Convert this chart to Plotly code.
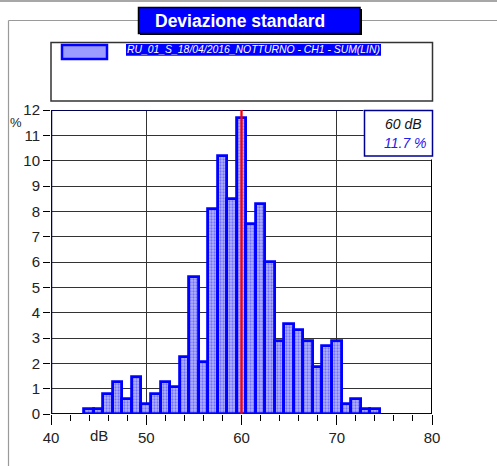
import plotly.graph_objects as go

# ---- data ----
db_levels = [44, 45, 46, 47, 48, 49, 50, 51, 52, 53, 54, 55, 56, 57, 58, 59,
             60, 61, 62, 63, 64, 65, 66, 67, 68, 69, 70, 71, 72, 73, 74]
percent = [0.2, 0.2, 0.8, 1.25, 0.6, 1.45, 0.4, 0.8, 1.25, 1.05, 2.25, 5.4, 2.05, 8.1, 10.2, 8.5,
           11.7, 7.5, 8.3, 6.0, 2.9, 3.55, 3.3, 2.9, 1.85, 2.7, 2.9, 0.4, 0.6, 0.2, 0.2]
x_ticks = [40, 50, 60, 70, 80]
y_ticks = list(range(0, 13))
series_name = "RU_01_S_18/04/2016_NOTTURNO - CH1 - SUM(LIN)"
title_text = "Deviazione standard"
cursor_db = 60
cursor_pct = 11.7

W, H = 497, 466
ML, MR, MT, MB = 51, 65, 110, 52
PW = W - ML - MR
PH = H - MT - MB


def px(p):
    return (p - ML) / PW


def py(p):
    return (H - MB - p) / PH


FONT = "Liberation Sans, Arial, sans-serif"

fig = go.Figure()
fig.add_trace(go.Bar(
    x=db_levels, y=percent, width=1,
    marker=dict(color="#9090ff",
                line=dict(color="#0000ff", width=2.8),
                pattern=dict(shape=".", fgcolor="#3030ff", bgcolor="#b4b4ff", size=3, solidity=0.45)),
    showlegend=False,
))

shapes = []
# outer decorations (gray frame)
shapes.append(dict(type="line", xref="paper", yref="paper", x0=px(0), x1=px(W), y0=py(1), y1=py(1),
                   line=dict(color="#8a8a8a", width=1.5), layer="above"))
shapes.append(dict(type="line", xref="paper", yref="paper", x0=px(8.5), x1=px(8.5), y0=py(20.5), y1=py(H),
                   line=dict(color="#9a9a9a", width=1.2), layer="above"))
shapes.append(dict(type="line", xref="paper", yref="paper", x0=px(8.5), x1=px(W), y0=py(20.5), y1=py(20.5),
                   line=dict(color="#9a9a9a", width=1.2), layer="above"))
# title box (shadow + box)
shapes.append(dict(type="rect", xref="paper", yref="paper", x0=px(140), x1=px(362), y0=py(9), y1=py(35),
                   fillcolor="black", line=dict(width=0), layer="above"))
shapes.append(dict(type="rect", xref="paper", yref="paper", x0=px(138.5), x1=px(360), y0=py(7.5), y1=py(33.5),
                   fillcolor="#0000ff", line=dict(color="black", width=1.5), layer="above"))
# legend box
shapes.append(dict(type="rect", xref="paper", yref="paper", x0=px(51), x1=px(432.5), y0=py(42.5), y1=py(101),
                   fillcolor="white", line=dict(color="#333333", width=1.5), layer="above"))
shapes.append(dict(type="rect", xref="paper", yref="paper", x0=px(62), x1=px(107), y0=py(45), y1=py(59),
                   fillcolor="#9a9aff", line=dict(color="#0000ff", width=2.5), layer="above"))
shapes.append(dict(type="rect", xref="paper", yref="paper", x0=px(126), x1=px(381), y0=py(44), y1=py(55.7),
                   fillcolor="#0000ff", line=dict(width=0), layer="above"))
# axis frame lines
shapes.append(dict(type="line", xref="x", yref="y", x0=40, x1=80, y0=0, y1=0,
                   line=dict(color="#000050", width=2), layer="between"))
shapes.append(dict(type="line", xref="x", yref="y", x0=40, x1=40, y0=0, y1=12,
                   line=dict(color="#000050", width=2.5), layer="above"))
shapes.append(dict(type="line", xref="x", yref="y", x0=40, x1=72.8, y0=12, y1=12,
                   line=dict(color="#000050", width=2), layer="above"))
shapes.append(dict(type="line", xref="x", yref="y", x0=80, x1=80, y0=0, y1=10.05,
                   line=dict(color="black", width=2), layer="above"))
# cursor line
shapes.append(dict(type="line", xref="x", yref="y", x0=cursor_db, x1=cursor_db, y0=0, y1=12,
                   line=dict(color="#ff0000", width=2.3), layer="above"))
# cursor value box
shapes.append(dict(type="rect", xref="paper", yref="paper", x0=px(364.5), x1=px(432.5), y0=py(110.5), y1=py(156),
                   fillcolor="white", line=dict(color="#000090", width=1.5), layer="above"))

annotations = [
    dict(xref="paper", yref="paper", x=px(239.5), y=py(20.5), text="<b>" + title_text + "</b>",
         showarrow=False, xanchor="center", yanchor="middle",
         font=dict(family=FONT, size=17.5, color="white")),
    dict(xref="paper", yref="paper", x=px(253.5), y=py(50), text="<i>" + series_name + "</i>",
         showarrow=False, xanchor="center", yanchor="middle",
         font=dict(family=FONT, size=10.4, color="white")),
    dict(xref="paper", yref="paper", x=px(24), y=py(122), text="%",
         showarrow=False, xanchor="right", yanchor="middle",
         font=dict(family=FONT, size=13, color="#222222")),
    dict(xref="x", yref="paper", x=45, y=py(435), text="dB",
         showarrow=False, xanchor="center", yanchor="middle",
         font=dict(family=FONT, size=15, color="#222222")),
    dict(xref="paper", yref="paper", x=px(423.5), y=py(123.5), text="<i>%d dB</i>" % cursor_db,
         showarrow=False, xanchor="right", yanchor="middle",
         font=dict(family=FONT, size=14, color="#111111")),
    dict(xref="paper", yref="paper", x=px(428.5), y=py(142.5), text="<i>%.1f %%</i>" % cursor_pct,
         showarrow=False, xanchor="right", yanchor="middle",
         font=dict(family=FONT, size=14, color="#2020ee")),
]

fig.update_layout(
    width=W, height=H,
    margin=dict(l=ML, r=MR, t=MT, b=MB, pad=0),
    paper_bgcolor="white", plot_bgcolor="white",
    bargap=0,
    shapes=shapes, annotations=annotations,
    showlegend=False,
    font=dict(family=FONT, size=15, color="#222222"),
)
fig.update_xaxes(
    range=[40, 80], tickvals=x_ticks, ticks="outside", ticklen=10, tickcolor="black", tickwidth=1.2,
    showgrid=True, gridcolor="#333333", gridwidth=1, zeroline=False, showline=False,
    tickfont=dict(family=FONT, size=15, color="#222222"),
    minor=dict(dtick=2, ticks="outside", ticklen=6, tickcolor="black", tickwidth=1.2, showgrid=False),
    fixedrange=True,
)
fig.update_yaxes(
    range=[0, 12], tickvals=y_ticks, ticks="outside", ticklen=7, tickcolor="black", tickwidth=1.2,
    showgrid=True, gridcolor="#333333", gridwidth=1, zeroline=False, showline=False,
    tickfont=dict(family=FONT, size=15, color="#222222"),
    fixedrange=True,
)

fig.write_html("out.html")
